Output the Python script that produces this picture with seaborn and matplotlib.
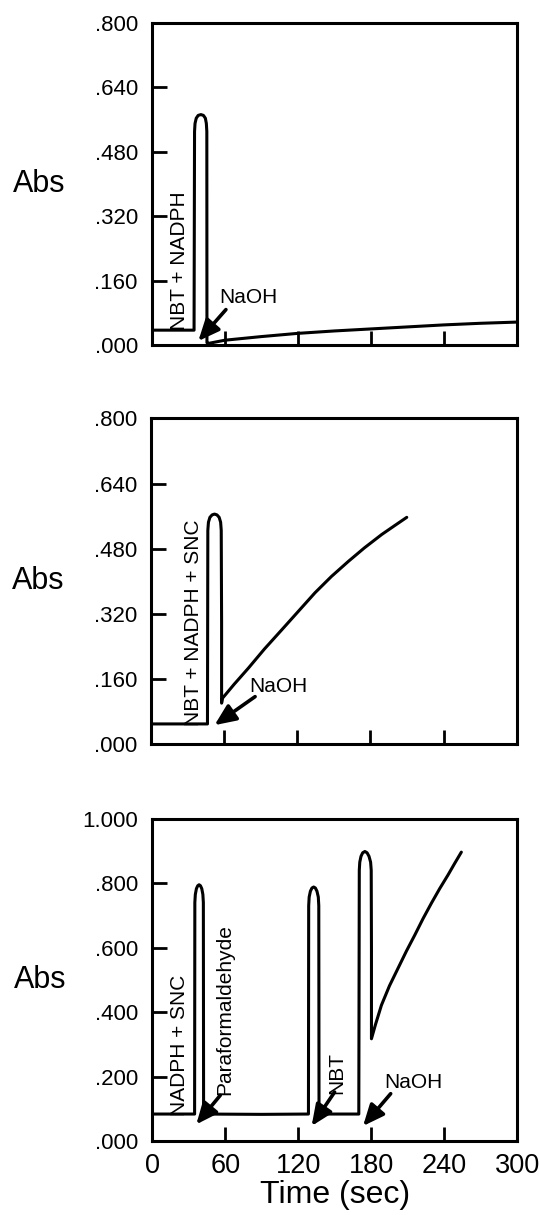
import matplotlib
matplotlib.use("Agg")
import matplotlib.pyplot as plt
import seaborn as sns

# ---------------- data ----------------
# Panel A: NBT + NADPH
time_a = [0, 34.8, 35.2, 35.6, 36.6, 38.2, 40.4, 42.5, 44.1, 44.9, 45.3, 45.4, 46.5,
          60, 90, 120, 150, 180, 210, 240, 270, 300]
abs_a = [0.037, 0.037, 0.530, 0.550, 0.563, 0.570, 0.572, 0.570, 0.563, 0.550, 0.530, 0.006, 0.004,
         0.012, 0.021, 0.029, 0.035, 0.040, 0.045, 0.050, 0.054, 0.057]

# Panel B: NBT + NADPH + SNC
time_b = [0, 46.2, 46.5, 47.0, 48.2, 50.0, 52.0, 54.0, 55.8, 57.0, 57.5, 57.8, 57.8,
          58.5, 68, 79.8, 93, 107.2, 121, 134.5, 148, 161.9, 175, 189.3, 200, 209.8]
abs_b = [0.050, 0.050, 0.525, 0.545, 0.557, 0.563, 0.565, 0.563, 0.557, 0.545, 0.525, 0.300, 0.101,
         0.113, 0.147, 0.187, 0.234, 0.281, 0.327, 0.372, 0.412, 0.449, 0.482, 0.515, 0.537, 0.557]

# Panel C: NADPH + SNC, Paraformaldehyde, NBT, NaOH
time_c = [0, 34.8, 35.0, 35.4, 36.3, 37.4, 38.5, 39.6, 40.7, 41.6, 42.0, 42.2,
          90, 128.4,
          128.6, 129.0, 130.0, 131.3, 132.7, 134.1, 135.4, 136.5, 136.9, 137.1,
          169.8,
          170.2, 170.6, 171.6, 173.0, 174.8, 176.6, 178.2, 179.5, 180.0, 180.2, 180.2,
          183.5, 188.4, 195, 202.0, 209, 215.8, 222.6, 229.5, 236.3, 243.1, 248.6, 254.1]
abs_c = [0.085, 0.085, 0.740, 0.765, 0.783, 0.792, 0.795, 0.792, 0.783, 0.765, 0.740, 0.085,
         0.084, 0.085,
         0.730, 0.757, 0.775, 0.785, 0.788, 0.785, 0.775, 0.757, 0.730, 0.085,
         0.085,
         0.840, 0.865, 0.883, 0.894, 0.898, 0.894, 0.883, 0.865, 0.840, 0.600, 0.318,
         0.362, 0.422, 0.482, 0.536, 0.590, 0.639, 0.690, 0.738, 0.783, 0.825, 0.861, 0.896]

x_ticks = [0, 60, 120, 180, 240, 300]
x_ticklabels = ["0", "60", "120", "180", "240", "300"]
y_ticks_ab = [0.0, 0.16, 0.32, 0.48, 0.64, 0.80]
y_ticklabels_ab = [".000", ".160", ".320", ".480", ".640", ".800"]
y_ticks_c = [0.0, 0.2, 0.4, 0.6, 0.8, 1.0]
y_ticklabels_c = [".000", ".200", ".400", ".600", ".800", "1.000"]

# ---------------- style ----------------
sns.set_style("ticks")
plt.rcParams["font.family"] = ["Liberation Sans", "DejaVu Sans"]
plt.rcParams["text.color"] = "black"
plt.rcParams["axes.labelcolor"] = "black"
plt.rcParams["xtick.color"] = "black"
plt.rcParams["ytick.color"] = "black"

fig = plt.figure(figsize=(5.39, 12.15), dpi=100)
ax_a = fig.add_axes([0.2815, 0.7160, 0.677, 0.2653])
ax_b = fig.add_axes([0.2805, 0.3874, 0.678, 0.2683])
ax_c = fig.add_axes([0.2825, 0.0605, 0.677, 0.2658])

line_kw = dict(sort=False, estimator=None, color="black", linewidth=2.2)
sns.lineplot(x=time_a, y=abs_a, ax=ax_a, **line_kw)
sns.lineplot(x=time_b, y=abs_b, ax=ax_b, **line_kw)
sns.lineplot(x=time_c, y=abs_c, ax=ax_c, **line_kw)


def style_axes(ax, yticks, ylabels, ymax, show_x):
    ax.set_xlim(0, 300)
    ax.set_ylim(0, ymax)
    ax.set_xticks(x_ticks)
    ax.set_yticks(yticks)
    ax.set_yticklabels(ylabels, fontsize=16, color="black")
    if show_x:
        ax.set_xticklabels(x_ticklabels, fontsize=19.5, color="black")
        ax.set_xlabel("Time (sec)", fontsize=23, labelpad=1, color="black")
    else:
        ax.set_xticklabels([])
        ax.set_xlabel("")
    for s in ax.spines.values():
        s.set_visible(True)
        s.set_linewidth(2.2)
        s.set_color("black")
    ax.tick_params(axis="y", direction="in", length=11, width=2.0, pad=10, colors="black")
    ax.tick_params(axis="x", direction="in", length=10, width=2.0, pad=8, colors="black")
    ax.set_ylabel("Abs", rotation=0, fontsize=22, ha="left", va="center", color="black")
    ax.yaxis.set_label_coords(-0.38, 0.5)


style_axes(ax_a, y_ticks_ab, y_ticklabels_ab, 0.8, False)
style_axes(ax_b, y_ticks_ab, y_ticklabels_ab, 0.8, False)
style_axes(ax_c, y_ticks_c, y_ticklabels_c, 1.0, True)

arrow_kw = dict(arrowstyle="-|>,head_length=0.8,head_width=0.35", color="black",
                lw=2.6, mutation_scale=16, shrinkA=0, shrinkB=0)
txt = dict(fontsize=15, color="black")

# Panel A annotations
ax_a.text(22.5, 0.21, "NBT + NADPH", rotation=90, ha="center", va="center", **txt)
ax_a.text(55.6, 0.119, "NaOH", ha="left", va="center", **txt)
ax_a.annotate("", xy=(38.3, 0.010), xytext=(61, 0.088), arrowprops=arrow_kw)

# Panel B annotations
ax_b.text(34.7, 0.298, "NBT + NADPH + SNC", rotation=90, ha="center", va="center", **txt)
ax_b.text(80.7, 0.142, "NaOH", ha="left", va="center", **txt)
ax_b.annotate("", xy=(52.0, 0.047), xytext=(85.3, 0.117), arrowprops=arrow_kw)

# Panel C annotations
ax_c.text(22, 0.297, "NADPH + SNC", rotation=90, ha="center", va="center", **txt)
ax_c.text(59.5, 0.407, "Paraformaldehyde", rotation=90, ha="center", va="center", **txt)
ax_c.annotate("", xy=(36.2, 0.053), xytext=(55.9, 0.143), arrowprops=arrow_kw)
ax_c.text(151.8, 0.213, "NBT", rotation=90, ha="center", va="center", **txt)
ax_c.annotate("", xy=(131.0, 0.048), xytext=(149.9, 0.153), arrowprops=arrow_kw)
ax_c.text(190.5, 0.184, "NaOH", ha="left", va="center", **txt)
ax_c.annotate("", xy=(173.3, 0.048), xytext=(196, 0.148), arrowprops=arrow_kw)

fig.savefig("out.png", dpi=100)
